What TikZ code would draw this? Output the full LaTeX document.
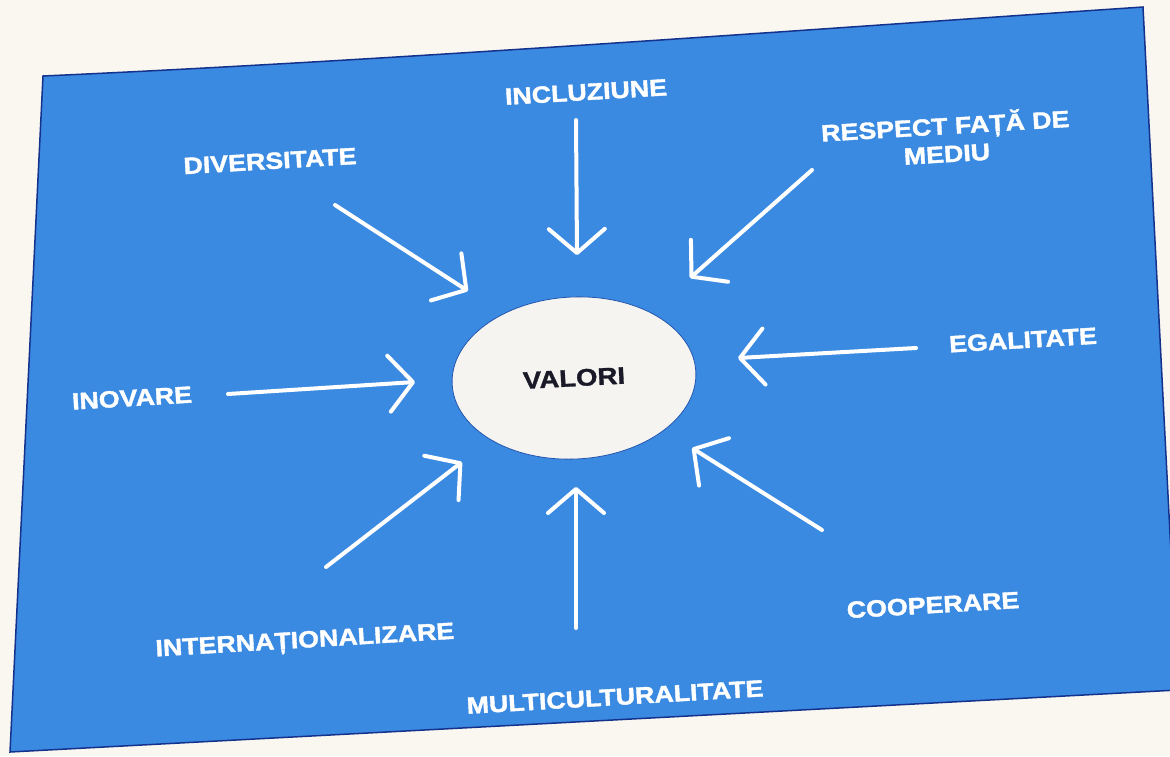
\documentclass[tikz,border=0pt]{standalone}
\usepackage{fontspec}
\usetikzlibrary{arrows.meta,shapes.geometric}
\newfontfamily\labfont[FakeStretch=1.14,FakeBold=1.6]{Liberation Sans}
\newfontfamily\ovalfont[FakeStretch=1.15,FakeBold=1.2]{Liberation Sans}
\definecolor{paper}{RGB}{249,247,240}
\definecolor{slide}{RGB}{58,138,226}
\definecolor{slideedge}{RGB}{20,50,140}
\definecolor{ovalfill}{RGB}{245,244,240}
\definecolor{ovaltext}{RGB}{25,25,40}
\tikzset{
  lab/.style={text=white, font=\labfont\bfseries\fontsize{23.5}{28}\selectfont, rotate=3.4, inner sep=0pt, align=center},
  inarrow/.style={draw=white, line width=4pt, line cap=round,
    -{Straight Barb[length=24pt, width=56pt, line width=4pt, round]}},
  oval/.style={ellipse, fill=ovalfill, draw=slideedge!60!slide, line width=0.8pt,
    minimum width=244pt, minimum height=162pt, rotate=3,
    text=ovaltext, font=\ovalfont\bfseries\fontsize{24}{26}\selectfont}
}
\begin{document}
\begin{tikzpicture}[x=1pt,y=-1pt]
\useasboundingbox (0,0) rectangle (1170,756);
\fill[paper] (0,0) rectangle (1170,756);
\filldraw[fill=slide, draw=slideedge, line width=1.5pt]
  (43,76) .. controls (400,60) and (800,30) .. (1143,7) -- (1178,690) -- (10,752) -- cycle;

\node[oval] (valori) at (574,378) {VALORI};

\node[lab] (incl) at (586,92) {INCLUZIUNE};
\node[lab] (div) at (270,161) {DIVERSITATE};
\node[lab] (resp) at (946,138) {RESPECT FAȚĂ DE\\MEDIU};
\node[lab] (egal) at (1023,340) {EGALITATE};
\node[lab] (inov) at (132,398) {INOVARE};
\node[lab] (inter) at (305,642) {INTERNAȚIONALIZARE};
\node[lab] (multi) at (615,697) {MULTICULTURALITATE};
\node[lab] (coop) at (933,605) {COOPERARE};

\coordinate (s1) at (576,120);  \coordinate (t1) at (577,255);
\coordinate (s2) at (335,205);  \coordinate (t2) at (468,291);
\coordinate (s3) at (812,170);  \coordinate (t3) at (690,278);
\coordinate (s4) at (916,348);  \coordinate (t4) at (738,358);
\coordinate (s5) at (228,394);  \coordinate (t5) at (415,382);
\coordinate (s6) at (326,567);  \coordinate (t6) at (462,462);
\coordinate (s7) at (576,628);  \coordinate (t7) at (576,487);
\coordinate (s8) at (822,530);  \coordinate (t8) at (692,448);

\draw[inarrow] (s1) -- (t1);
\draw[inarrow] (s2) -- (t2);
\draw[inarrow] (s3) -- (t3);
\draw[inarrow] (s4) -- (t4);
\draw[inarrow] (s5) -- (t5);
\draw[inarrow] (s6) -- (t6);
\draw[inarrow] (s7) -- (t7);
\draw[inarrow] (s8) -- (t8);
\end{tikzpicture}
\end{document}
